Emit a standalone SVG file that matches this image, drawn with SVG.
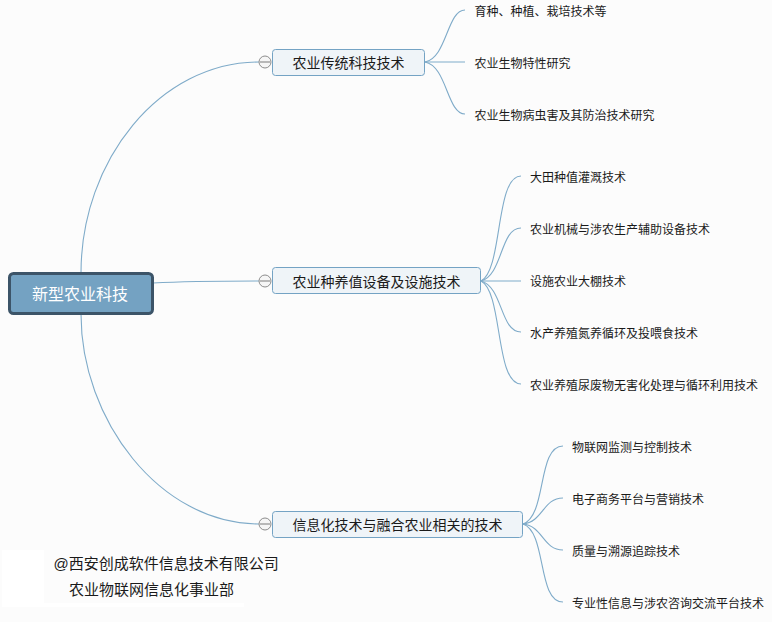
<svg xmlns="http://www.w3.org/2000/svg" width="772" height="622" viewBox="0 0 772 622">
<style>
text{font-family:"Liberation Sans","Noto Sans CJK SC",sans-serif;fill:#1a1a1a}
.c{fill:none;stroke:#7fabc9;stroke-width:1.1}
.b{fill:#eff4f8;stroke:#74a3c4;stroke-width:1}
.bt{font-size:14px;text-anchor:middle}
.l{font-size:12px}
.f{font-size:15px}
.o{fill:#f6f6f6;stroke:#8c8c8c;stroke-width:1}
.m{stroke:#7a7a7a;stroke-width:1}
</style>
<rect width="772" height="622" fill="#fcfcfc"/>
<g id="watermark"><rect x="2" y="550" width="42" height="57" fill="#fff"/><rect x="44" y="603" width="200" height="4" fill="#fff"/></g>
<g id="connectors">
<path class="c" d="M81 273C81 160 160 62 259 62"/>
<path class="c" d="M153 283C190 281 225 281 259 281"/>
<path class="c" d="M81 314C81 420 160 524 259 524"/>
<path class="c" d="M425 62C447 58 447 10 465 10"/>
<path class="c" d="M425 62H465"/>
<path class="c" d="M425 62C447 66 447 114 465 114"/>
<path class="c" d="M481 281C503 270 495 176 521 176"/>
<path class="c" d="M481 281C503 275 500 228 521 228"/>
<path class="c" d="M481 281H521"/>
<path class="c" d="M481 281C503 287 500 332 521 332"/>
<path class="c" d="M481 281C503 292 495 384 521 384"/>
<path class="c" d="M523 524C547 516 537 446 563 446"/>
<path class="c" d="M523 524C543 522 543 498 563 498"/>
<path class="c" d="M523 524C543 526 543 550 563 550"/>
<path class="c" d="M523 524C547 532 537 602 563 602"/>
</g>
<g id="root"><rect x="9.5" y="273.5" width="143" height="40" rx="4" fill="#74a2c2" stroke="#3c5468" stroke-width="3"/><text x="80" y="299.500" font-size="16" text-anchor="middle" style="fill:#fff">新型农业科技</text></g>
<g id="b1"><circle class="o" cx="265" cy="62" r="6"/><path class="m" d="M260 62H270"/><rect class="b" x="272.500" y="49.500" width="152" height="26" rx="3"/><text class="bt" x="348.500" y="67.500">农业传统科技技术</text></g>
<g id="b2"><circle class="o" cx="265" cy="281" r="6"/><path class="m" d="M260 281H270"/><rect class="b" x="272.500" y="267.500" width="208" height="26" rx="3"/><text class="bt" x="376.500" y="286.500">农业种养值设备及设施技术</text></g>
<g id="b3"><circle class="o" cx="265" cy="524" r="6"/><path class="m" d="M260 524H270"/><rect class="b" x="272.500" y="511.500" width="250" height="26" rx="3"/><text class="bt" x="397.500" y="529.500">信息化技术与融合农业相关的技术</text></g>
<g id="n1"><text class="l" x="474.500" y="16">育种、种植、栽培技术等</text></g>
<g id="n2"><text class="l" x="474.500" y="68">农业生物特性研究</text></g>
<g id="n3"><text class="l" x="474.500" y="120">农业生物病虫害及其防治技术研究</text></g>
<g id="n4"><text class="l" x="530" y="182">大田种值灌溉技术</text></g>
<g id="n5"><text class="l" x="530" y="234">农业机械与涉农生产辅助设备技术</text></g>
<g id="n6"><text class="l" x="530" y="286">设施农业大棚技术</text></g>
<g id="n7"><text class="l" x="530" y="338">水产养殖氮养循环及投喂食技术</text></g>
<g id="n8"><text class="l" x="530" y="390">农业养殖尿废物无害化处理与循环利用技术</text></g>
<g id="n9"><text class="l" x="572" y="452">物联网监测与控制技术</text></g>
<g id="n10"><text class="l" x="572" y="504">电子商务平台与营销技术</text></g>
<g id="n11"><text class="l" x="572" y="556">质量与溯源追踪技术</text></g>
<g id="n12"><text class="l" x="572" y="608">专业性信息与涉农咨询交流平台技术</text></g>
<g id="footer"><text class="f" x="53.500" y="569">@西安创成软件信息技术有限公司</text><text class="f" x="69" y="595">农业物联网信息化事业部</text></g>
</svg>
